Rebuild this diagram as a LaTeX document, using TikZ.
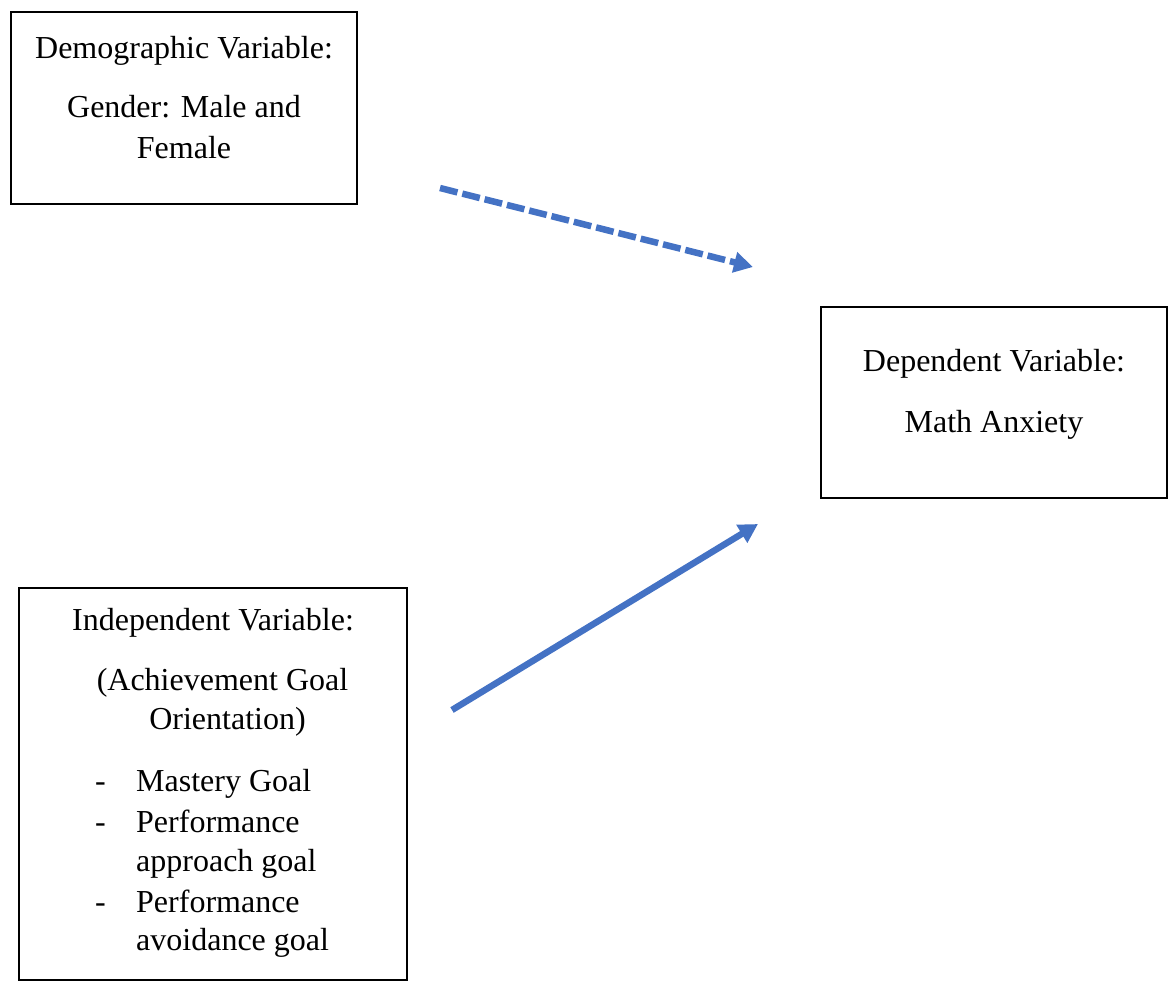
\documentclass[tikz,border=0pt]{standalone}
\usepackage{fontspec}
\setmainfont{Liberation Serif}
\usetikzlibrary{arrows.meta}
\definecolor{arrowblue}{HTML}{4472C4}
\begin{document}
\begin{tikzpicture}[x=1pt,y=-1pt,
  box/.style={draw=black,line width=2pt,inner sep=0pt,fill=white},
  txt/.style={font=\fontsize{32}{38}\selectfont,inner sep=0pt,anchor=base},
  ltxt/.style={font=\fontsize{32}{38}\selectfont,inner sep=0pt,anchor=base west},
  conn/.style={draw=arrowblue,line width=6.5pt,-{Triangle[length=19pt,width=20pt]}}]
\useasboundingbox (0,0) rectangle (1168,989);
% boxes
\node[box,minimum width=346pt,minimum height=192pt] (demo) at (184,108) {};
\node[box,minimum width=346pt,minimum height=191pt] (dep) at (994,402.5) {};
\node[box,minimum width=388pt,minimum height=392pt] (indep) at (213,784) {};
% demographic text
\node[txt] (d1) at (184,58) {Demographic Variable:};
\node[txt] (d2) at (184,117) {Gender: Male and};
\node[txt] (d3) at (184,158) {Female};
% dependent text
\node[txt] (p1) at (994,371) {Dependent Variable:};
\node[txt] (p2) at (994,432) {Math Anxiety};
% independent text
\node[txt] (i1) at (213,630) {Independent Variable:};
\node[txt] (i2) at (222.5,690) {(Achievement Goal};
\node[txt] (i3) at (227.5,729) {Orientation)};
\node[ltxt] (b1) at (95,791) {-};
\node[ltxt] (b2) at (95,832) {-};
\node[ltxt] (b3) at (95,912) {-};
\node[ltxt] (i4) at (136,791) {Mastery Goal};
\node[ltxt] (i5) at (136,832) {Performance};
\node[ltxt] (i6) at (136,871) {approach goal};
\node[ltxt] (i7) at (136,912) {Performance};
\node[ltxt] (i8) at (136,950) {avoidance goal};
% arrows
\coordinate (a1s) at (440,188);
\coordinate (a1e) at (753,267);
\coordinate (a2s) at (452,710);
\coordinate (a2e) at (758,524);
\draw[conn,dash pattern=on 18pt off 5pt] (a1s) -- (a1e);
\draw[conn] (a2s) -- (a2e);
\end{tikzpicture}
\end{document}
